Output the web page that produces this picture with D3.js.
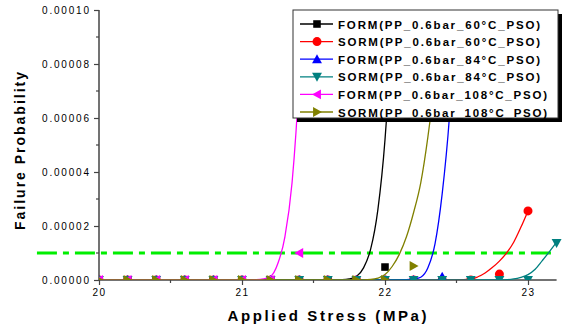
<!DOCTYPE html>
<html>
<head>
<meta charset="utf-8">
<script src="https://cdn.jsdelivr.net/npm/d3@7/dist/d3.min.js"></script>
<style>
  html, body { margin: 0; padding: 0; background: #fff; }
  svg { display: block; font-family: Arial, "Liberation Sans", sans-serif; }
</style>
</head>
<body>
<svg id="chart" width="565" height="332"></svg>
<script>
// ---------------- DATA ----------------
const seriesNames = [
  "FORM(PP_0.6bar_60°C_PSO)",
  "SORM(PP_0.6bar_60°C_PSO)",
  "FORM(PP_0.6bar_84°C_PSO)",
  "SORM(PP_0.6bar_84°C_PSO)",
  "FORM(PP_0.6bar_108°C_PSO)",
  "SORM(PP_0.6bar_108°C_PSO)"
];
const seriesColors = ["#000000", "#ff0000", "#0000ff", "#008080", "#ff00ff", "#808000"];
const seriesSymbols = ["square", "circle", "triUp", "triDown", "triLeft", "triRight"];

// marker stress values (MPa), sampled every 0.2
const markerX = [20.0, 20.2, 20.4, 20.6, 20.8, 21.0, 21.2, 21.4, 21.6, 21.8, 22.0, 22.2, 22.4, 22.6, 22.8, 23.0, 23.2];

// marker failure probabilities (only points inside the plotted range)
const markerForm60  = [0, 0, 0, 0, 0, 0, 0, 0, 0, 0, 4.8e-6];
const markerSorm60  = [0, 0, 0, 0, 0, 0, 0, 0, 0, 0, 0, 0, 0, 0, 2.2e-6, 2.56e-5];
const markerForm84  = [0, 0, 0, 0, 0, 0, 0, 0, 0, 0, 0, 0, 1.2e-6];
const markerSorm84  = [0, 0, 0, 0, 0, 0, 0, 0, 0, 0, 0, 0, 0, 0, 0, 0, 1.37e-5];
const markerForm108 = [0, 0, 0, 0, 0, 0, 0, 1.0e-5];
const markerSorm108 = [0, 0, 0, 0, 0, 0, 0, 0, 0, 0, 0, 5.2e-6];

// smooth curves [stress, probability]
const curveForm60 = [[20.0,0],[21.6,0],[21.7,1e-7],[21.75,4e-7],[21.8,1.3e-6],[21.85,4.5e-6],[21.9,1.15e-5],[21.95,2.6e-5],[22.0,5.2e-5],[22.05,9.5e-5],[22.1,1.6e-4]];
const curveSorm60 = [[20.0,0],[22.5,0],[22.6,3e-7],[22.65,1.2e-6],[22.7,2.6e-6],[22.75,4.6e-6],[22.8,7e-6],[22.85,1.0e-5],[22.9,1.4e-5],[22.95,1.95e-5],[23.0,2.56e-5]];
const curveForm84 = [[20.0,0],[22.1,0],[22.2,3e-7],[22.25,1e-6],[22.3,4.5e-6],[22.35,1.35e-5],[22.4,3.2e-5],[22.45,6e-5],[22.5,1.05e-4]];
const curveSorm84 = [[20.0,0],[22.8,0],[22.9,4e-7],[22.95,1e-6],[23.0,2e-6],[23.05,4e-6],[23.1,7.2e-6],[23.15,1.05e-5],[23.2,1.4e-5]];
const curveForm108 = [[20.0,0],[21.0,0],[21.1,1e-7],[21.15,4e-7],[21.2,1.3e-6],[21.25,6e-6],[21.3,1.6e-5],[21.35,3.6e-5],[21.4,7.5e-5],[21.45,1.4e-4]];
const curveSorm108 = [[20.0,0],[21.8,0],[21.9,2e-7],[21.95,7e-7],[22.0,2e-6],[22.05,5e-6],[22.1,9.5e-6],[22.15,1.6e-5],[22.2,2.5e-5],[22.25,3.6e-5],[22.3,5.3e-5],[22.35,7.5e-5],[22.4,1.05e-4]];

const thresholdValue = 1e-5;
const thresholdRange = [19.566, 23.2];

const xTicks = [20, 21, 22, 23];
const xTickLabels = ["20", "21", "22", "23"];
const yTicks = [0, 2e-5, 4e-5, 6e-5, 8e-5, 1e-4];
const yTickLabels = ["0.00000", "0.00002", "0.00004", "0.00006", "0.00008", "0.00010"];
const xMinorTicks = [20.5, 21.5, 22.5];
const yMinorTicks = [1e-5, 3e-5, 5e-5, 7e-5, 9e-5];

const xTitle = "Applied Stress (MPa)";
const yTitle = "Failure Probability";

const markerSets = [markerForm60, markerSorm60, markerForm84, markerSorm84, markerForm108, markerSorm108];
const curveSets = [curveForm60, curveSorm60, curveForm84, curveSorm84, curveForm108, curveSorm108];

// ---------------- LAYOUT ----------------
const svg = d3.select("#chart");
const pLeft = 99, pRight = 556.6, pTop = 10, pBottom = 280;
const x = d3.scaleLinear().domain([20, 23.2]).range([pLeft, pRight]);
const y = d3.scaleLinear().domain([0, 1e-4]).range([pBottom, pTop]);
const axisColor = "#444";

svg.append("defs").append("clipPath").attr("id", "plotclip")
  .append("rect").attr("x", pLeft).attr("y", pTop).attr("width", pRight - pLeft + 6).attr("height", pBottom - pTop);

// threshold line (not clipped)
svg.append("line")
  .attr("x1", x(thresholdRange[0])).attr("x2", x(thresholdRange[1]))
  .attr("y1", y(thresholdValue)).attr("y2", y(thresholdValue))
  .attr("stroke", "#00ee00").attr("stroke-width", 3)
  .attr("stroke-dasharray", "20,6,6,6");

// axes
const xAxis = d3.axisBottom(x).tickValues(xTicks).tickFormat((d, i) => xTickLabels[i]).tickSize(5).tickPadding(4);
const gx = svg.append("g").attr("transform", `translate(0,${pBottom})`).call(xAxis);
gx.select(".domain").attr("stroke", axisColor).attr("stroke-width", 1.5).attr("d", `M${pLeft},0H${pRight}`);
gx.selectAll(".tick line").attr("stroke", axisColor).attr("stroke-width", 1.2);
gx.selectAll(".tick text").attr("font-size", 10).attr("fill", "#000")
  .attr("letter-spacing", "1.5px").attr("font-family", "Arial, 'Liberation Sans', sans-serif");
gx.selectAll(".minor").data(xMinorTicks).enter().append("line")
  .attr("x1", d => x(d)).attr("x2", d => x(d)).attr("y1", 0).attr("y2", 3)
  .attr("stroke", axisColor).attr("stroke-width", 1.2);

const yAxis = d3.axisLeft(y).tickValues(yTicks).tickFormat((d, i) => yTickLabels[i]).tickSize(5).tickPadding(5);
const gy = svg.append("g").attr("transform", `translate(${pLeft},0)`).call(yAxis);
gy.select(".domain").attr("stroke", axisColor).attr("stroke-width", 1.5).attr("d", `M0,${pTop}V${pBottom}`);
gy.selectAll(".tick line").attr("stroke", axisColor).attr("stroke-width", 1.2);
gy.selectAll(".tick text").attr("font-size", 10).attr("fill", "#000")
  .attr("font-family", "Arial, 'Liberation Sans', sans-serif")
  .attr("textLength", 47).attr("lengthAdjust", "spacing");
gy.selectAll(".minor").data(yMinorTicks).enter().append("line")
  .attr("x1", 0).attr("x2", -3).attr("y1", d => y(d)).attr("y2", d => y(d))
  .attr("stroke", axisColor).attr("stroke-width", 1.2);

// titles
svg.append("text").attr("x", 327).attr("y", 321).attr("text-anchor", "middle")
  .attr("font-size", 15).attr("font-weight", "bold").attr("textLength", 199).attr("lengthAdjust", "spacing")
  .text(xTitle);
svg.append("text").attr("transform", "translate(25,151) rotate(-90)").attr("text-anchor", "middle")
  .attr("font-size", 14).attr("font-weight", "bold").attr("textLength", 158).attr("lengthAdjust", "spacing")
  .text(yTitle);

// marker drawer
function drawMarker(g, sym, cx, cy, color, s) {
  let el;
  if (sym === "square") {
    el = g.append("rect").attr("x", cx - s * 0.42).attr("y", cy - s * 0.42).attr("width", s * 0.84).attr("height", s * 0.84);
  } else if (sym === "circle") {
    el = g.append("circle").attr("cx", cx).attr("cy", cy).attr("r", s * 0.5);
  } else {
    const h = s * 0.55;
    let pts;
    if (sym === "triUp") pts = [[cx, cy - h], [cx - h, cy + h * 0.8], [cx + h, cy + h * 0.8]];
    if (sym === "triDown") pts = [[cx, cy + h], [cx - h, cy - h * 0.8], [cx + h, cy - h * 0.8]];
    if (sym === "triLeft") pts = [[cx - h, cy], [cx + h * 0.8, cy - h], [cx + h * 0.8, cy + h]];
    if (sym === "triRight") pts = [[cx + h, cy], [cx - h * 0.8, cy - h], [cx - h * 0.8, cy + h]];
    el = g.append("polygon").attr("points", pts.map(p => p.join(",")).join(" "));
  }
  el.attr("fill", color);
}

// series
const plot = svg.append("g").attr("clip-path", "url(#plotclip)");
const line = d3.line().x(d => x(d[0])).y(d => y(d[1])).curve(d3.curveMonotoneX);
seriesNames.forEach((name, i) => {
  const g = plot.append("g");
  g.append("path").datum(curveSets[i]).attr("d", line)
    .attr("fill", "none").attr("stroke", seriesColors[i]).attr("stroke-width", 1.3);
  markerSets[i].forEach((v, j) => {
    drawMarker(g, seriesSymbols[i], x(markerX[j]), y(v), seriesColors[i], 9);
  });
});

// legend
const lg = svg.append("g");
const lx = 293, ly = 10, lw = 265, lh = 108;
lg.append("rect").attr("x", lx + 4).attr("y", ly + 4).attr("width", lw).attr("height", lh).attr("fill", "#000");
lg.append("rect").attr("x", lx).attr("y", ly).attr("width", lw).attr("height", lh)
  .attr("fill", "#fff").attr("stroke", "#333").attr("stroke-width", 1);
seriesNames.forEach((name, i) => {
  const cy = 24 + i * 17.6;
  lg.append("line").attr("x1", 300).attr("x2", 333).attr("y1", cy).attr("y2", cy)
    .attr("stroke", seriesColors[i]).attr("stroke-width", 1.3);
  drawMarker(lg, seriesSymbols[i], 317, cy, seriesColors[i], 9);
  lg.append("text").attr("x", 338).attr("y", cy + 4.5)
    .attr("font-size", 11.5).attr("font-weight", "bold")
    .attr("textLength", name.includes("108") ? 209 : 202).attr("lengthAdjust", "spacing")
    .text(name);
});
</script>
</body>
</html>
